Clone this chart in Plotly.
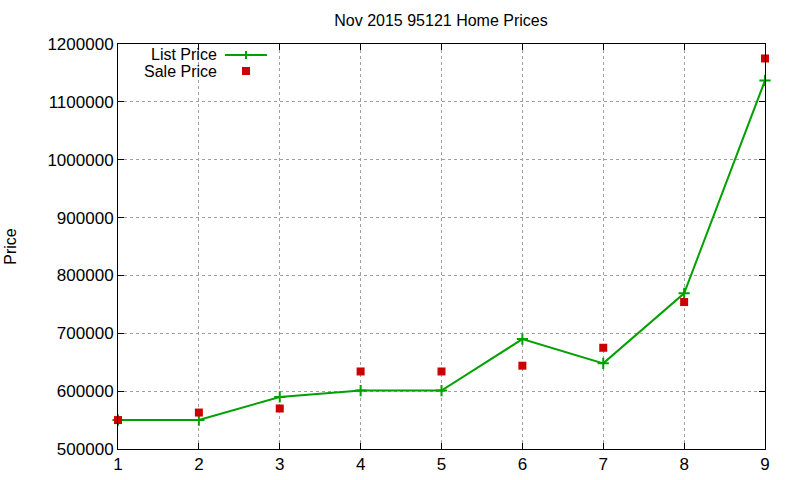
import plotly.graph_objects as go

x_vals = [1, 2, 3, 4, 5, 6, 7, 8, 9]
list_price = [550000, 550000, 590000, 601000, 601000, 690000, 648000, 769000, 1137000]
sale_price = [550000, 563000, 570000, 634000, 634000, 644000, 675000, 754000, 1175000]
title_text = "Nov 2015 95121 Home Prices"
y_label = "Price"
legend_labels = ["List Price", "Sale Price"]

GREEN = "#00a000"
RED = "#cc0000"
FONT = "Liberation Sans, Arial, sans-serif"
FS = 17

fig = go.Figure()
fig.add_trace(go.Scatter(
    x=x_vals, y=list_price, mode="lines+markers", name=legend_labels[0],
    line=dict(color=GREEN, width=2),
    marker=dict(symbol="cross-thin", size=8, line=dict(color=GREEN, width=2), color=GREEN),
    showlegend=False, cliponaxis=False,
))
fig.add_trace(go.Scatter(
    x=x_vals, y=sale_price, mode="markers", name=legend_labels[1],
    marker=dict(symbol="square", size=8, color=RED),
    showlegend=False, cliponaxis=False,
))

# Gnuplot-style legend (text on the left, sample on the right)
PW = 765 - 118
PH = 449 - 44
lx_text = (219 - 118) / PW
ly1 = 1 - (55 - 44) / PH
ly2 = 1 - (71 - 44) / PH
fig.add_annotation(x=lx_text, y=ly1, xref="paper", yref="paper", text=legend_labels[0],
                   showarrow=False, xanchor="right", yanchor="middle",
                   font=dict(family=FONT, size=16, color="black"))
fig.add_annotation(x=lx_text, y=ly2, xref="paper", yref="paper", text=legend_labels[1],
                   showarrow=False, xanchor="right", yanchor="middle",
                   font=dict(family=FONT, size=16, color="black"))
sx0 = (225 - 118) / PW
sx1 = (267 - 118) / PW
sxm = (246 - 118) / PW
fig.add_shape(type="line", xref="paper", yref="paper", x0=sx0, x1=sx1, y0=ly1, y1=ly1,
              line=dict(color=GREEN, width=2))
dy = 4 / PH
fig.add_shape(type="line", xref="paper", yref="paper", x0=sxm, x1=sxm, y0=ly1 - dy, y1=ly1 + dy,
              line=dict(color=GREEN, width=2))
hx = 4 / PW
hy = 4 / PH
fig.add_shape(type="rect", xref="paper", yref="paper", x0=sxm - hx, x1=sxm + hx,
              y0=ly2 - hy, y1=ly2 + hy, line=dict(width=0), fillcolor=RED)

axis_common = dict(
    showline=True, linecolor="black", linewidth=1, mirror="allticks",
    ticks="inside", ticklen=6, tickcolor="black",
    showgrid=True, gridcolor="#a0a0a0", griddash="dot", gridwidth=1,
    zeroline=False, tickfont=dict(family=FONT, size=FS, color="black"),
    automargin=False,
)
fig.update_layout(
    width=800, height=480,
    margin=dict(l=118, r=35, t=44, b=31),
    paper_bgcolor="white", plot_bgcolor="white",
    title=dict(text=title_text, x=441 / 800, xanchor="center", y=1 - 20 / 480, yanchor="middle",
               font=dict(family=FONT, size=16, color="black")),
    xaxis=dict(range=[1, 9], dtick=1, **axis_common),
    yaxis=dict(range=[500000, 1200000], dtick=100000, tickformat="d",
               title=dict(text=y_label, font=dict(family=FONT, size=16, color="black"), standoff=26),
               **axis_common),
    showlegend=False,
)
fig.write_html("out.html")
